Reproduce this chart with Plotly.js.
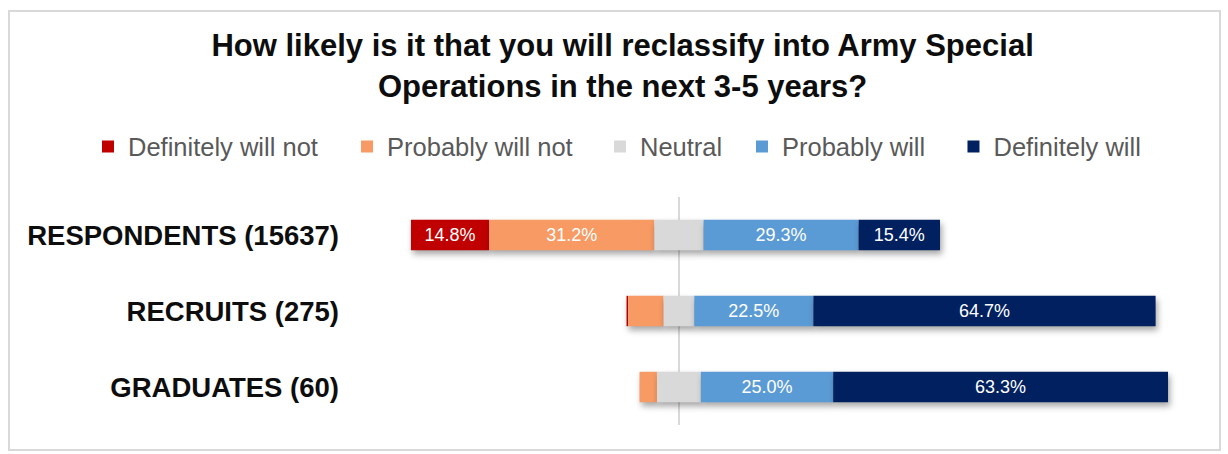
<!DOCTYPE html>
<html>
<head>
<meta charset="utf-8">
<script src="https://cdn.plot.ly/plotly-3.0.1.min.js"></script>
<style>
  html, body { margin: 0; padding: 0; background: #ffffff; }
  #wrap { position: relative; width: 1228px; height: 454px; }
  #chart { width: 1228px; height: 454px; }
  #frame { position: absolute; left: 8px; top: 10px; width: 1213px; height: 441px;
           border: 2px solid #d9d9d9; box-sizing: border-box; pointer-events: none; }
  #chart .barlayer .point path { filter: drop-shadow(2px 4px 3px rgba(0,0,0,0.35)); }
</style>
</head>
<body>
<div id="wrap">
  <div id="chart"></div>
  <div id="frame"></div>
</div>
<script>
// ---- data (percent of each group) ----
const categories = ['RESPONDENTS (15637)', 'RECRUITS (275)', 'GRADUATES (60)'];
const definitelyWillNot = [14.8, 0.3, 0.0];
const probablyWillNot   = [31.2, 6.7, 3.3];
const neutral           = [9.3, 5.8, 8.3];
const probablyWill      = [29.3, 22.5, 25.0];
const definitelyWill    = [15.4, 64.7, 63.3];
const seriesNames = ['Definitely will not', 'Probably will not', 'Neutral', 'Probably will', 'Definitely will'];
const seriesColors = ['#C00000', '#F79A63', '#D9D9D9', '#5B9BD5', '#002060'];

// ---- diverging bases (neutral split around zero) ----
const halfN = neutral.map(v => v / 2);
const baseNeutral = halfN.map(h => -h);
const baseProbNot = halfN.map((h, i) => -h - probablyWillNot[i]);
const baseDefNot  = halfN.map((h, i) => -h - probablyWillNot[i] - definitelyWillNot[i]);
const baseProbWill = halfN.slice();
const baseDefWill  = halfN.map((h, i) => h + probablyWill[i]);

const label = arr => arr.map(v => v >= 10 ? v.toFixed(1) + '%' : '');
const FONT = 'Liberation Sans, Arial, Helvetica, sans-serif';

// legend anchor positions (paper x) for each series' legend box
const legendIds = ['legend', 'legend2', 'legend3', 'legend4', 'legend5'];
const legendX = [-0.3605, -0.0407, 0.2716, 0.4469, 0.7080];

function mk(idx, vals, base, showText) {
  return {
    type: 'bar', orientation: 'h', name: seriesNames[idx],
    legend: legendIds[idx],
    y: categories, x: vals, base: base,
    width: 0.4,
    marker: { color: seriesColors[idx], line: { width: 0 } },
    text: showText ? label(vals) : vals.map(() => ''),
    textposition: 'inside', insidetextanchor: 'middle',
    textfont: { family: FONT, size: 18, color: '#ffffff' },
    constraintext: 'none',
    hoverinfo: 'skip'
  };
}

const data = [
  mk(0, definitelyWillNot, baseDefNot, true),
  mk(1, probablyWillNot, baseProbNot, true),
  mk(2, neutral, baseNeutral, false),
  mk(3, probablyWill, baseProbWill, true),
  mk(4, definitelyWill, baseDefWill, true)
];

const layout = {
  width: 1228, height: 454,
  margin: { l: 380, r: 38, t: 197, b: 29, pad: 0 },
  paper_bgcolor: '#ffffff', plot_bgcolor: '#ffffff',
  barmode: 'overlay',
  showlegend: true,
  title: {
    text: '<b>How likely is it that you will reclassify into Army Special<br>Operations in the next 3-5 years?</b>',
    font: { family: FONT, size: 31, color: '#0d0d0d' },
    x: 0.507, xanchor: 'center', xref: 'container',
    y: 0.876, yanchor: 'top', yref: 'container'
  },
  xaxis: {
    range: [-56.5, 96.6], showgrid: false, showticklabels: false, ticks: '',
    zeroline: true, zerolinecolor: '#d9d9d9', zerolinewidth: 2, showline: false,
    fixedrange: true
  },
  yaxis: {
    type: 'category', autorange: 'reversed', showgrid: false, zeroline: false,
    showline: false, ticks: '', ticklabelstandoff: 40,
    tickfont: { family: FONT, size: 27.5, color: '#0d0d0d', weight: 'bold' },
    fixedrange: true
  }
};

legendIds.forEach((id, i) => {
  layout[id] = {
    orientation: 'h', x: legendX[i], xanchor: 'left', y: 1.22, yanchor: 'middle',
    font: { family: FONT, size: 25.5, color: '#595959' },
    bgcolor: 'rgba(0,0,0,0)'
  };
});

Plotly.newPlot('chart', data, layout, { displayModeBar: false, staticPlot: true });
</script>
</body>
</html>
